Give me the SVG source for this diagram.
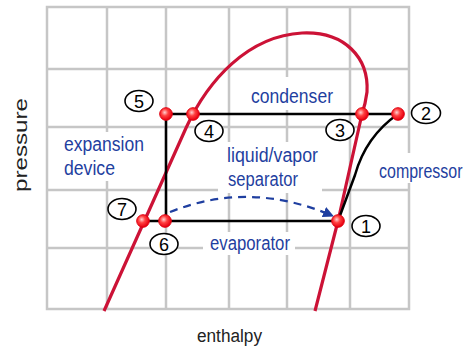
<svg xmlns="http://www.w3.org/2000/svg" width="468" height="348" viewBox="0 0 468 348">
<style>
.grid{stroke:#c6c6c6;stroke-width:2.5;fill:none}
.mask{fill:#ffffff}
.dome{stroke:#cc1236;stroke-width:3.2;fill:none;stroke-linejoin:round}
.cyc{stroke:#000;stroke-width:2.5;fill:none}
.dash{stroke:#1f3fa0;stroke-width:2.2;fill:none;stroke-dasharray:8,6}
.dot{fill:url(#rg);stroke:#e00010;stroke-width:1}
.ring{fill:#fff;stroke:#000;stroke-width:1.6}
.num{font-family:"Liberation Sans",Arial,sans-serif;font-size:18px;fill:#000;text-anchor:middle}
.lab{font-family:"Liberation Sans",Arial,sans-serif;font-size:20px;fill:#1f3fa0}
.ax{font-family:"Liberation Sans",Arial,sans-serif;font-size:18px;fill:#222}
</style>
<defs>
<radialGradient id="rg" cx="0.4" cy="0.38" r="0.6">
<stop offset="0" stop-color="#ffd0d0"/>
<stop offset="0.45" stop-color="#ff4040"/>
<stop offset="1" stop-color="#e80010"/>
</radialGradient>
<marker id="ah" viewBox="0 0 10 10" refX="9" refY="5" markerWidth="5" markerHeight="5" orient="auto" markerUnits="strokeWidth">
<path d="M0,0 L10,5 L0,10 z" fill="#1f3fa0"/>
</marker>
</defs>
<rect width="468" height="348" fill="#fff"/>
<g id="grid">
<path class="grid" d="M47,7 H409 V309 H47 Z M107,7 V309 M166,7 V309 M229,7 V309 M287,7 V309 M350,7 V309 M47,69 H409 M47,127 H409 M47,190 H409 M47,248 H409"/>
<rect class="mask" x="240" y="77" width="100" height="33"/>
<rect class="mask" x="58" y="132" width="102" height="49"/>
<rect class="mask" x="218" y="142" width="104" height="51"/>
<rect class="mask" x="368" y="153" width="100" height="30"/>
<rect class="mask" x="203" y="232" width="92" height="23"/>
</g>
<g id="connectors">
<path id="dome" class="dome" d="M104,311 L186,128 C208,80 248,36 302,33 C345,31 369,58 367,92 C366,100 364,108 362,114 L338,221 L315,311"/>
<path id="cycle" class="cyc" d="M398,114 H166 V221 H338 M143,221 H166"/>
<path id="compression" class="cyc" d="M398,114 C375,130 362,150 355,175 L338,221"/>
<path id="separation" class="dash" d="M170,212 Q250,180 333,216" marker-end="url(#ah)"/>
</g>
<g id="p5"><circle class="dot" cx="166" cy="114" r="6.3"/><ellipse class="ring" cx="139" cy="101" rx="14" ry="10.5"/><text class="num" x="139" y="107.5">5</text></g>
<g id="p4"><circle class="dot" cx="193" cy="114" r="6.3"/><ellipse class="ring" cx="209" cy="131" rx="14" ry="10.5"/><text class="num" x="209" y="137.5">4</text></g>
<g id="p3"><circle class="dot" cx="362" cy="114" r="6.3"/><ellipse class="ring" cx="340" cy="130" rx="14" ry="10.5"/><text class="num" x="340" y="136.5">3</text></g>
<g id="p2"><circle class="dot" cx="398" cy="114" r="6.3"/><ellipse class="ring" cx="426" cy="113" rx="14.5" ry="10.5"/><text class="num" x="426" y="119.5">2</text></g>
<g id="p7"><circle class="dot" cx="143" cy="221" r="6.3"/><ellipse class="ring" cx="122" cy="209" rx="14" ry="10.5"/><text class="num" x="122" y="215.5">7</text></g>
<g id="p6"><circle class="dot" cx="165" cy="221" r="6.3"/><ellipse class="ring" cx="164" cy="244" rx="14" ry="10.5"/><text class="num" x="164" y="250.5">6</text></g>
<g id="p1"><circle class="dot" cx="338" cy="221" r="6.3"/><ellipse class="ring" cx="366" cy="226" rx="14" ry="10.5"/><text class="num" x="366" y="232.5">1</text></g>
<g id="condenser"><text class="lab" x="251" y="103" textLength="82" lengthAdjust="spacingAndGlyphs">condenser</text></g>
<g id="expansion"><text class="lab" x="64" y="151" textLength="80" lengthAdjust="spacingAndGlyphs">expansion</text><text class="lab" x="64" y="175" textLength="51" lengthAdjust="spacingAndGlyphs">device</text></g>
<g id="separator"><text class="lab" x="227" y="162" textLength="91" lengthAdjust="spacingAndGlyphs">liquid/vapor</text><text class="lab" x="228" y="186" textLength="70" lengthAdjust="spacingAndGlyphs">separator</text></g>
<g id="compressor"><text class="lab" transform="translate(379,178) scale(0.8,1)" x="0" y="0">compressor</text></g>
<g id="evaporator"><text class="lab" x="210" y="250" textLength="80" lengthAdjust="spacingAndGlyphs">evaporator</text></g>
<g id="axes">
<text class="ax" x="197" y="342" font-size="17" textLength="65" lengthAdjust="spacingAndGlyphs">enthalpy</text>
<text class="ax" transform="translate(27,192) rotate(-90)" x="0" y="0" textLength="94" lengthAdjust="spacingAndGlyphs">pressure</text>
</g>
</svg>
